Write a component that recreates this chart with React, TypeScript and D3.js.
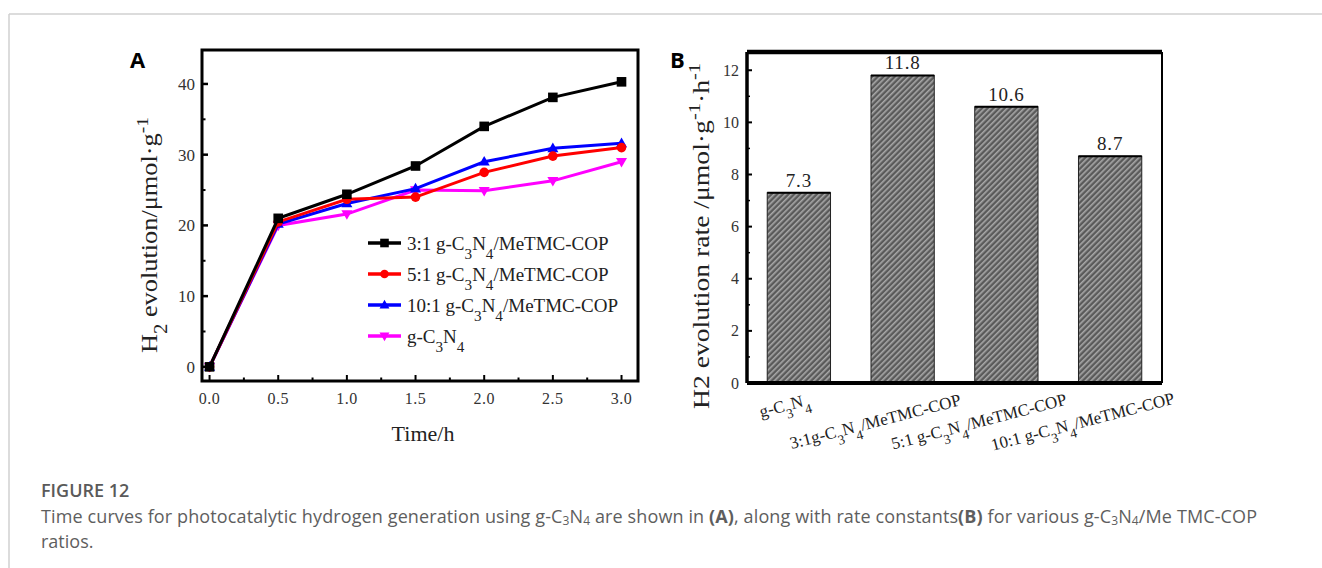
import React from "react";
import * as d3 from "d3";

const timeH = [0, 0.5, 1.0, 1.5, 2.0, 2.5, 3.0];
const s31 = [0, 21.0, 24.4, 28.4, 34.0, 38.1, 40.3];
const s51 = [0, 20.5, 23.7, 24.0, 27.5, 29.8, 31.0];
const s101 = [0, 20.2, 23.1, 25.2, 29.0, 30.9, 31.6];
const sG = [0, 20.0, 21.6, 25.0, 24.9, 26.3, 29.0];
const seriesNames = ["3:1", "5:1", "10:1", ""];
const seriesColors = ["#000000", "#ff0000", "#0000ff", "#ff00ff"];
const seriesSymbols = ["square", "circle", "triUp", "triDown"];
const aYTicks = [0, 10, 20, 30, 40];
const aXTicks = [0, 0.5, 1.0, 1.5, 2.0, 2.5, 3.0];

const barCats = ["g-C3N4", "3:1g-C3N4/MeTMC-COP", "5:1 g-C3N4/MeTMC-COP", "10:1 g-C3N4/MeTMC-COP"];
const barValues = [7.3, 11.8, 10.6, 8.7];
const bYTicks = [0, 2, 4, 6, 8, 10, 12];

const serif = "'Liberation Serif', 'Times New Roman', serif";
const sans = "'Open Sans', 'Noto Sans', sans-serif";

// render chem formula: digits after letters C/N become subscripts
function Chem({ text, size }: { text: string; size: number }) {
  const parts: React.ReactNode[] = [];
  const re = /([CN])(\d)/g;
  let last = 0;
  let m: RegExpExecArray | null;
  let k = 0;
  while ((m = re.exec(text))) {
    parts.push(<tspan key={k++}>{text.slice(last, m.index + 1)}</tspan>);
    parts.push(
      <tspan key={k++} baselineShift="sub" fontSize={size * 0.8}>
        {m[2]}
      </tspan>
    );
    last = m.index + 2;
  }
  parts.push(<tspan key={k++}>{text.slice(last)}</tspan>);
  return <>{parts}</>;
}

function Marker({ type, x, y, color, r }: { type: string; x: number; y: number; color: string; r: number }) {
  if (type === "square") return <rect x={x - r} y={y - r} width={2 * r} height={2 * r} fill={color} />;
  if (type === "circle") return <circle cx={x} cy={y} r={r} fill={color} />;
  if (type === "triUp")
    return <path d={`M${x},${y - r * 1.2}L${x + r * 1.15},${y + r * 0.8}L${x - r * 1.15},${y + r * 0.8}Z`} fill={color} />;
  return <path d={`M${x},${y + r * 1.2}L${x + r * 1.15},${y - r * 0.8}L${x - r * 1.15},${y - r * 0.8}Z`} fill={color} />;
}

function PanelA() {
  const L = 202, R = 638, T = 50, B = 381;
  const x = d3.scaleLinear().domain([-0.055, 3.12]).range([L, R]);
  const y = d3.scaleLinear().domain([-2, 44.8]).range([B, T]);
  const all = [s31, s51, s101, sG];
  const line = d3
    .line<number>()
    .x((_, i) => x(timeH[i]))
    .y((d) => y(d));
  const order = [3, 2, 1, 0];
  const minorX = d3.range(0, 3.01, 0.25);
  const minorY = d3.range(5, 45, 10);
  return (
    <g>
      <text x={130} y={68} fontFamily={sans} fontWeight="bold" fontSize={22}>A</text>
      {order.map((si) => (
        <g key={si}>
          <path d={line(all[si]) || ""} fill="none" stroke={seriesColors[si]} strokeWidth={3} />
          {all[si].map((v, i) => (
            <Marker key={i} type={seriesSymbols[si]} x={x(timeH[i])} y={y(v)} color={seriesColors[si]} r={4.8} />
          ))}
        </g>
      ))}
      <rect x={L} y={T} width={R - L} height={B - T} fill="none" stroke="#000" strokeWidth={3} />
      {aYTicks.map((t) => (
        <g key={t}>
          <line x1={L} x2={L + 6} y1={y(t)} y2={y(t)} stroke="#000" strokeWidth={2.5} />
          <text x={L - 7} y={y(t)} dy="0.35em" textAnchor="end" fontFamily={serif} fontSize={17} fill="#333">{t}</text>
        </g>
      ))}
      {minorY.map((t) => (
        <line key={t} x1={L} x2={L + 3.5} y1={y(t)} y2={y(t)} stroke="#000" strokeWidth={2} />
      ))}
      {minorX.map((t) => (
        <line key={t} x1={x(t)} x2={x(t)} y1={B} y2={B - (t % 0.5 === 0 ? 6 : 3.5)} stroke="#000" strokeWidth={2} />
      ))}
      {aXTicks.map((t) => (
        <text key={t} x={x(t)} y={404} textAnchor="middle" fontFamily={serif} fontSize={16} letterSpacing={0.5} fill="#333">{t.toFixed(1)}</text>
      ))}
      <text x={423} y={441} textAnchor="middle" fontFamily={serif} fontSize={22} fill="#222">Time/h</text>
      <text transform="translate(157,235) rotate(-90)" textAnchor="middle" fontFamily={serif} fontSize={23} fill="#222" textLength={236} lengthAdjust="spacingAndGlyphs">
        H<tspan baselineShift="sub" fontSize={18}>2</tspan> evolution/μmol·g<tspan baselineShift="super" fontSize={17}>-1</tspan>
      </text>
      {seriesNames.map((n, i) => {
        const ly = 243 + i * 31;
        return (
          <g key={i}>
            <line x1={368} x2={401} y1={ly} y2={ly} stroke={seriesColors[i]} strokeWidth={3.5} />
            <Marker type={seriesSymbols[i]} x={384.5} y={ly} color={seriesColors[i]} r={4.3} />
            <text x={407} y={ly} dy="0.35em" fontFamily={serif} fontSize={19} fill="#222">
              {n ? n + " " : ""}
              <Chem text={n ? "g-C3N4/MeTMC-COP" : "g-C3N4"} size={19} />
            </text>
          </g>
        );
      })}
    </g>
  );
}

function PanelB() {
  const L = 747, R = 1162, T = 52, B = 383;
  const x = d3.scaleBand<string>().domain(barCats).range([L, R]).paddingInner(0.39).paddingOuter(0.195);
  const y = d3.scaleLinear().domain([0, 12.7]).range([B, T]);
  const minorY = d3.range(1, 12.5, 2);
  return (
    <g>
      <defs>
        <pattern id="hatch" patternUnits="userSpaceOnUse" width={4} height={4} patternTransform="rotate(45)">
          <rect width={4} height={4} fill="#5a5a5a" />
          <rect width={1.6} height={4} fill="#a8a8a8" />
        </pattern>
      </defs>
      <text x={670} y={68} fontFamily={sans} fontWeight="bold" fontSize={22}>B</text>
      {barCats.map((c, i) => {
        const cx = (x(c) || 0) + x.bandwidth() / 2;
        return (
          <g key={c}>
            <rect x={x(c)} y={y(barValues[i])} width={x.bandwidth()} height={B - y(barValues[i])} fill="url(#hatch)" stroke="#222" strokeWidth={1} />
            <line x1={x(c)} x2={(x(c) || 0) + x.bandwidth()} y1={y(barValues[i])} y2={y(barValues[i])} stroke="#000" strokeWidth={2} />
            <text x={cx} y={y(barValues[i]) - 6} textAnchor="middle" fontFamily={serif} fontSize={19} letterSpacing={0.8} fill="#222">
              {barValues[i]}
            </text>
            <text
              transform={`translate(${cx - (i === 0 ? 13 : 26)},${i === 0 ? 411 : 427}) rotate(-14.5)`}
              textAnchor="middle"
              fontFamily={serif}
              fontSize={17}
              fill="#222"
            >
              <Chem text={c} size={17} />
            </text>
          </g>
        );
      })}
      <line x1={L} x2={R} y1={T} y2={T} stroke="#000" strokeWidth={4.5} />
      <line x1={R} x2={R} y1={T} y2={B} stroke="#000" strokeWidth={2} />
      <line x1={L} x2={L} y1={T} y2={B} stroke="#000" strokeWidth={3.5} />
      <line x1={L} x2={R} y1={B} y2={B} stroke="#000" strokeWidth={4} />
      {bYTicks.map((t) => (
        <g key={t}>
          <line x1={L} x2={L + 5} y1={y(t)} y2={y(t)} stroke="#000" strokeWidth={2} />
          <text x={L - 8} y={y(t)} dy="0.35em" textAnchor="end" fontFamily={serif} fontSize={16} fill="#333">{t}</text>
        </g>
      ))}
      {minorY.map((t) => (
        <line key={t} x1={L} x2={L + 3} y1={y(t)} y2={y(t)} stroke="#000" strokeWidth={1.5} />
      ))}
      <text transform="translate(709,236) rotate(-90)" textAnchor="middle" fontFamily={serif} fontSize={23} fill="#222" textLength={346} lengthAdjust="spacingAndGlyphs">
        H2 evolution rate /μmol·g<tspan baselineShift="super" fontSize={17}>-1</tspan>·h<tspan baselineShift="super" fontSize={17}>-1</tspan>
      </text>
    </g>
  );
}

export default function App() {
  const sub = (s: string) => (
    <tspan baselineShift="-18%" fontSize={12}>{s}</tspan>
  );
  return (
    <svg width={1322} height={568} style={{ position: "absolute", left: 0, top: 0, background: "#fff" }}>
      <rect width={1322} height={568} fill="#fff" />
      <line x1={9} x2={1322} y1={14} y2={14} stroke="#d0d0d0" strokeWidth={1.5} />
      <line x1={9} x2={9} y1={14} y2={568} stroke="#d0d0d0" strokeWidth={1.5} />
      <PanelA />
      <PanelB />
      <text x={41} y={497} fontFamily={sans} fontSize={18} fontWeight={600} fill="#5a5a5a">FIGURE 12</text>
      <text x={41} y={523} fontFamily={sans} fontSize={18} fill="#5e5e5e" textLength={1216} lengthAdjust="spacing">
        Time curves for photocatalytic hydrogen generation using g-C{sub("3")}N{sub("4")} are shown in{" "}
        <tspan fontWeight="bold">(A)</tspan>, along with rate constants<tspan fontWeight="bold">(B)</tspan> for various g-C
        {sub("3")}N{sub("4")}/Me TMC-COP
      </text>
      <text x={41} y={548} fontFamily={sans} fontSize={18} fill="#5e5e5e">ratios.</text>
    </svg>
  );
}
